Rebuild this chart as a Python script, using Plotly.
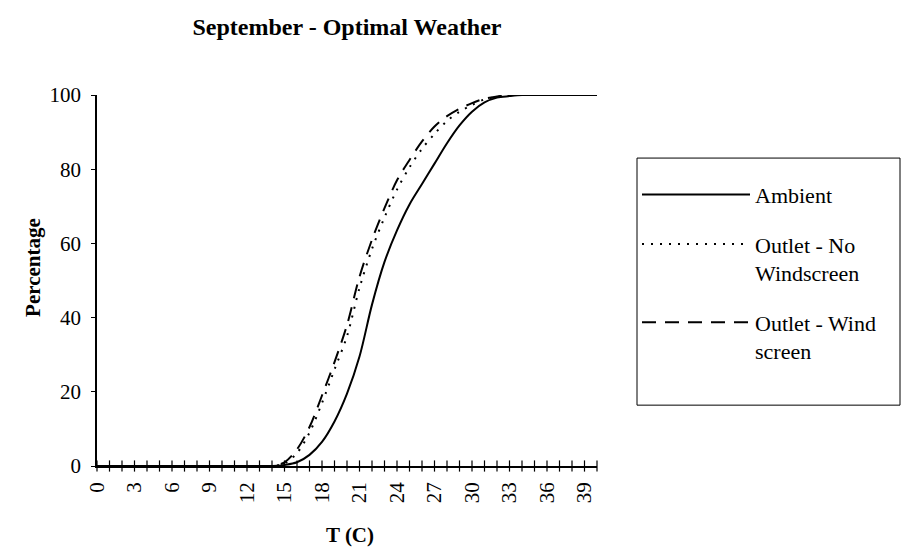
import plotly.graph_objects as go

# Temperature categories (C)
T = list(range(0, 41))

ambient = [0]*15 + [0.3, 1, 3, 6.5, 12, 19.5, 29.5, 43.5, 55, 63.5, 70.5, 76, 81.5, 87, 91.8, 95.5, 98, 99.3, 99.7] + [100]*7
outlet_no_ws = [0]*15 + [0.7, 3.5, 9, 17, 26, 35, 48, 58.5, 67, 74.5, 80.5, 85.5, 89.5, 93, 95.5, 97.3, 98.8, 99.5] + [100]*8
outlet_ws = [0]*15 + [1, 4.5, 10.5, 19, 28, 38, 51, 61, 69.5, 77, 82.5, 87.5, 91.5, 94.3, 96.3, 97.8, 99, 99.6] + [100]*8

x_tick_vals = list(range(0, 40, 3))
y_tick_vals = [0, 20, 40, 60, 80, 100]

FONT = "Liberation Serif"

fig = go.Figure()

fig.add_trace(go.Scatter(x=T, y=ambient, mode="lines", name="Ambient",
                         legendgroup="a",
                         line=dict(color="black", width=2, shape="spline", smoothing=0.9)))
fig.add_trace(go.Scatter(x=T, y=outlet_no_ws, mode="lines", name="Outlet - No<br>Windscreen",
                         legendgroup="b",
                         line=dict(color="black", width=2, dash="2px,7px", shape="spline", smoothing=0.9)))
fig.add_trace(go.Scatter(x=T, y=outlet_ws, mode="lines", name="Outlet - Wind<br>screen",
                         legendgroup="c",
                         line=dict(color="black", width=2, dash="14px,9px", shape="spline", smoothing=0.9)))

# crossing tick marks on the category axis
fig.add_trace(go.Scatter(x=T, y=[0]*len(T), mode="markers", showlegend=False, hoverinfo="skip",
                         cliponaxis=False,
                         marker=dict(symbol="line-ns", size=8, line=dict(color="black", width=1.2))))

fig.update_layout(
    width=903, height=550,
    margin=dict(l=97, r=306, t=95, b=84, autoexpand=False),
    paper_bgcolor="white", plot_bgcolor="white",
    font=dict(family=FONT, color="black", size=21),
    title=dict(text="<b>September - Optimal Weather</b>", x=0.5, xref="paper",
               y=1 - 27/550, yref="container", yanchor="middle", xanchor="center",
               font=dict(family=FONT, size=24, color="black")),
    showlegend=True,
    legend=dict(x=1.08, y=0.83, xanchor="left", yanchor="top",
                bgcolor="rgba(0,0,0,0)", borderwidth=0,
                font=dict(family=FONT, size=22, color="black"),
                title=dict(text=" ", font=dict(size=12)),
                itemwidth=108, tracegroupgap=18, traceorder="grouped", valign="top"),
    shapes=[dict(type="rect", xref="paper", yref="paper",
                 x0=1.08, x1=1.606, y0=0.164, y1=0.83,
                 line=dict(color="black", width=1), fillcolor="rgba(0,0,0,0)", layer="below")],
    annotations=[
        dict(text="<b>Percentage</b>", xref="paper", yref="paper",
             x=-0.128, y=0.534, textangle=-90, showarrow=False,
             xanchor="center", yanchor="middle",
             font=dict(family=FONT, size=21, color="black")),
        dict(text="<b>T (C)</b>", xref="paper", yref="paper",
             x=0.506, y=-0.186, showarrow=False,
             xanchor="center", yanchor="middle",
             font=dict(family=FONT, size=21, color="black")),
    ],
)

fig.update_xaxes(range=[0, 40], tickmode="array", tickvals=x_tick_vals,
                 ticktext=[str(v) for v in x_tick_vals], tickangle=-90,
                 showline=True, linecolor="black", linewidth=1.5,
                 ticks="", showgrid=False, zeroline=False, ticklabelstandoff=6,
                 tickfont=dict(family=FONT, size=21), automargin=False)

fig.update_yaxes(range=[0, 100], tickmode="array", tickvals=y_tick_vals,
                 showline=True, linecolor="black", linewidth=1.5,
                 ticks="outside", ticklen=4, tickcolor="black",
                 showgrid=False, zeroline=False, ticklabelstandoff=6,
                 tickfont=dict(family=FONT, size=21), automargin=False)

fig.write_html("out.html")
